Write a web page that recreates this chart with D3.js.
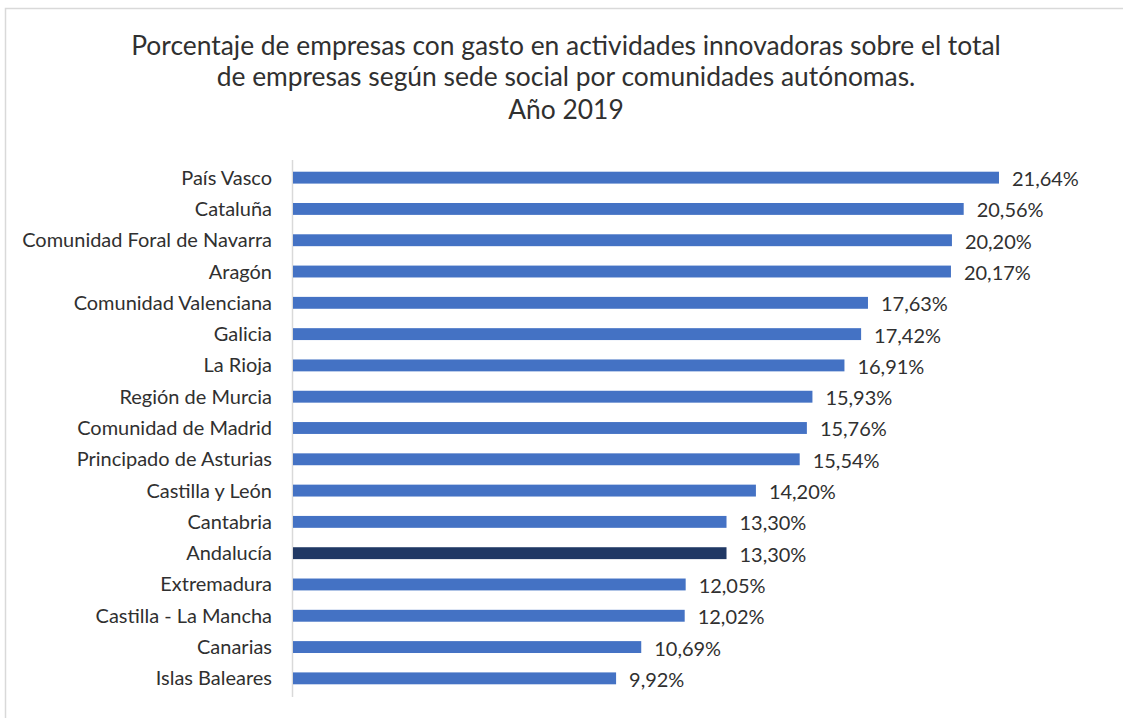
<!DOCTYPE html>
<html><head><meta charset="utf-8">
<script src="https://cdn.jsdelivr.net/npm/d3@7"></script>
<style>body{margin:0;background:#fff}svg{display:block}</style>
</head><body>
<svg id="c" width="1123" height="718"></svg>
<script>
const categories = ["País Vasco","Cataluña","Comunidad Foral de Navarra","Aragón","Comunidad Valenciana","Galicia","La Rioja","Región de Murcia","Comunidad de Madrid","Principado de Asturias","Castilla y León","Cantabria","Andalucía","Extremadura","Castilla - La Mancha","Canarias","Islas Baleares"];
const values = [21.64,20.56,20.20,20.17,17.63,17.42,16.91,15.93,15.76,15.54,14.20,13.30,13.30,12.05,12.02,10.69,9.92];
const highlight = ["Andalucía"];
const titleLines = ["Porcentaje de empresas con gasto en actividades innovadoras sobre el total","de empresas según sede social por comunidades autónomas.","Año 2019"];

const svg = d3.select("#c");
const font = "Lato, 'Noto Sans', sans-serif";

// frame
svg.append("path").attr("d","M5.5,718 V8.5 H1123").attr("fill","none").attr("stroke","#d9d9d9").attr("stroke-width",1.5);

const x = d3.scaleLinear().domain([0,25]).range([292,292+25*32.67]);
const y = d3.scaleBand().domain(categories).range([162,694]).paddingInner(0.62).paddingOuter(0.31);

// title
const tY = [55,86,119];
const tg = svg.append("g");
titleLines.forEach((t,i)=>{
  tg.append("text").attr("x",566).attr("y",tY[i]).attr("text-anchor","middle")
    .attr("font-family",font).attr("font-size",22).attr("fill","#303030").text(t);
});
const l1 = tg.select("text").node().getComputedTextLength();
const fs = 22*870/l1;
tg.selectAll("text").attr("font-size",fs);

// axis line
svg.append("line").attr("x1",292.5).attr("x2",292.5).attr("y1",160).attr("y2",697).attr("stroke","#d9d9d9").attr("stroke-width",1.5);

// bars
svg.append("g").selectAll("rect").data(categories).join("rect")
  .attr("x",x(0)+1).attr("y",d=>y(d)).attr("height",y.bandwidth())
  .attr("width",(d,i)=>x(values[i])-x(0)-1)
  .attr("fill",d=>highlight.includes(d)?"#203864":"#4472C4");

// category labels
const cl = svg.append("g").selectAll("text").data(categories).join("text")
  .attr("x",272).attr("y",d=>y(d)+y.bandwidth()/2).attr("dy","0.35em")
  .attr("text-anchor","end").attr("font-family",font).attr("font-size",15).attr("fill","#303030").text(d=>d);
const nav = cl.filter(d=>d==="Comunidad Foral de Navarra").node().getComputedTextLength();
const cfs = 15*250/nav;
cl.attr("font-size",cfs);

// value labels
svg.append("g").selectAll("text").data(categories).join("text")
  .attr("x",(d,i)=>x(values[i])+13).attr("y",d=>y(d)+y.bandwidth()/2+1.5).attr("dy","0.35em")
  .attr("font-family",font).attr("font-size",cfs).attr("fill","#303030")
  .text((d,i)=>d3.format(".2f")(values[i]).replace(".",",")+"%");
</script>
</body></html>
